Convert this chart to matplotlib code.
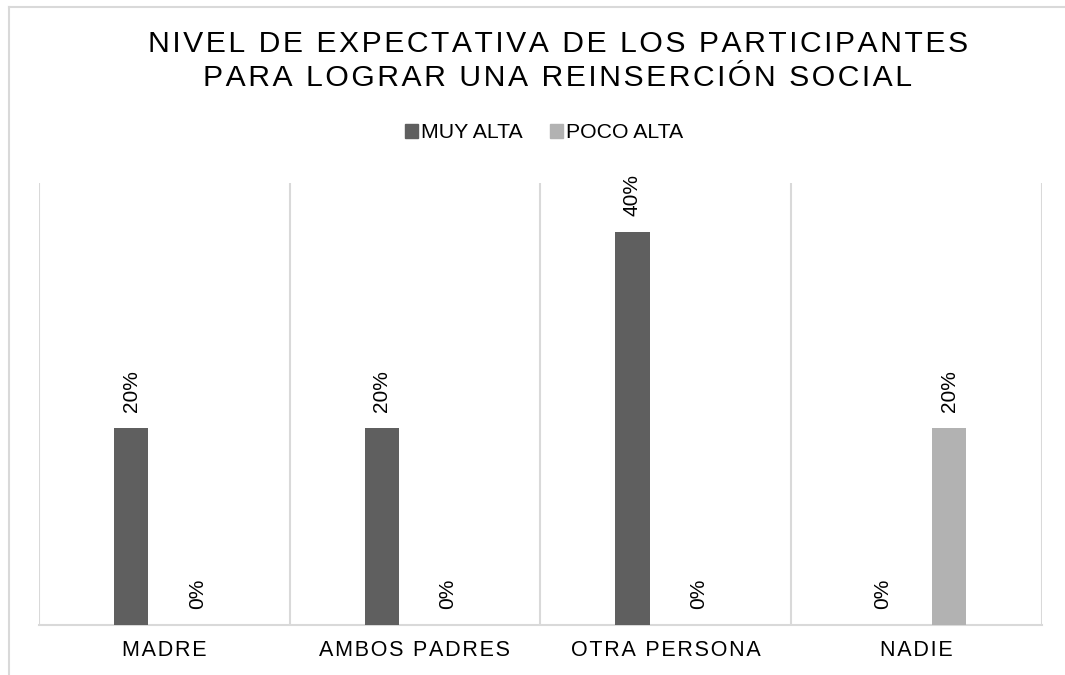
import numpy as np
import matplotlib.pyplot as plt
from matplotlib.lines import Line2D
from matplotlib.patches import Patch

categorias = ['MADRE', 'AMBOS PADRES', 'OTRA PERSONA', 'NADIE']
muy_alta   = [0.20, 0.20, 0.40, 0.00]
poco_alta  = [0.00, 0.00, 0.00, 0.20]
series     = ['MUY ALTA', 'POCO ALTA']
titulo     = ['NIVEL DE EXPECTATIVA DE LOS PARTICIPANTES',
              'PARA LOGRAR UNA REINSERCIÓN SOCIAL']

c_dark  = '#5f5f5f'
c_light = '#b2b2b2'
c_grid  = '#d9d9d9'
fam = ['Liberation Sans', 'DejaVu Sans']
plt.rcParams['font.family'] = fam

def spaced(s):
    # Excel letter spacing, approximated with hair spaces
    return '\u200a'.join(s)

fig = plt.figure(figsize=(10.65, 6.75), dpi=100)
ax = fig.add_axes([39/1065, 1-624.5/675, (1041.5-39)/1065, (624.5-183)/675])

x = np.arange(len(categorias))
width = 0.136
off = 0.132
b1 = ax.bar(x - off, muy_alta, width, color=c_dark, zorder=3)
b2 = ax.bar(x + off, poco_alta, width, color=c_light, zorder=3)

for bars, vals in [(b1, muy_alta), (b2, poco_alta)]:
    for rect, v in zip(bars, vals):
        ax.annotate(f'{v*100:.0f}%', (rect.get_x() + rect.get_width()/2, v),
                    xytext=(0, 11.5), textcoords='offset points',
                    rotation=90, ha='center', va='bottom',
                    fontsize=15, color='#000000')

ax.set_xlim(-0.5, 3.5)
ax.set_ylim(0, 0.45)
ax.set_yticks([])
ax.set_xticks(x)
ax.set_xticklabels([spaced(c) for c in categorias], fontsize=15.5, color='#000000')
ax.set_xticks(np.arange(-0.5, 4, 1), minor=True)
ax.tick_params(axis='x', which='both', length=0, pad=11.5)
ax.grid(True, which='minor', axis='x', color=c_grid, linewidth=1.5, zorder=0)
for s in ['top', 'left', 'right']:
    ax.spines[s].set_visible(False)
ax.spines['bottom'].set_color(c_grid)
ax.spines['bottom'].set_linewidth(1.5)

# title
fig.text(558/1065, 1-44/675, spaced(titulo[0]), ha='center', va='center',
         fontsize=21.7, color='#000000')
fig.text(558/1065, 1-77.5/675, spaced(titulo[1]), ha='center', va='center',
         fontsize=21.7, color='#000000')

handles = [Patch(color=c_dark), Patch(color=c_light)]
fig.legend(handles, series, loc='center', bbox_to_anchor=(544/1065, 1-133/675),
           ncol=2, frameon=False, fontsize=15.3, handlelength=0.6, handleheight=0.6,
           handletextpad=0.15, columnspacing=1.3)

# chart area border (cropped on right and bottom)
fig.add_artist(Line2D([9/1065, 1], [1-7/675, 1-7/675], color=c_grid, linewidth=1.5))
fig.add_artist(Line2D([9/1065, 9/1065], [0, 1-7/675], color=c_grid, linewidth=1.5))

plt.savefig('out.png', dpi=100)
